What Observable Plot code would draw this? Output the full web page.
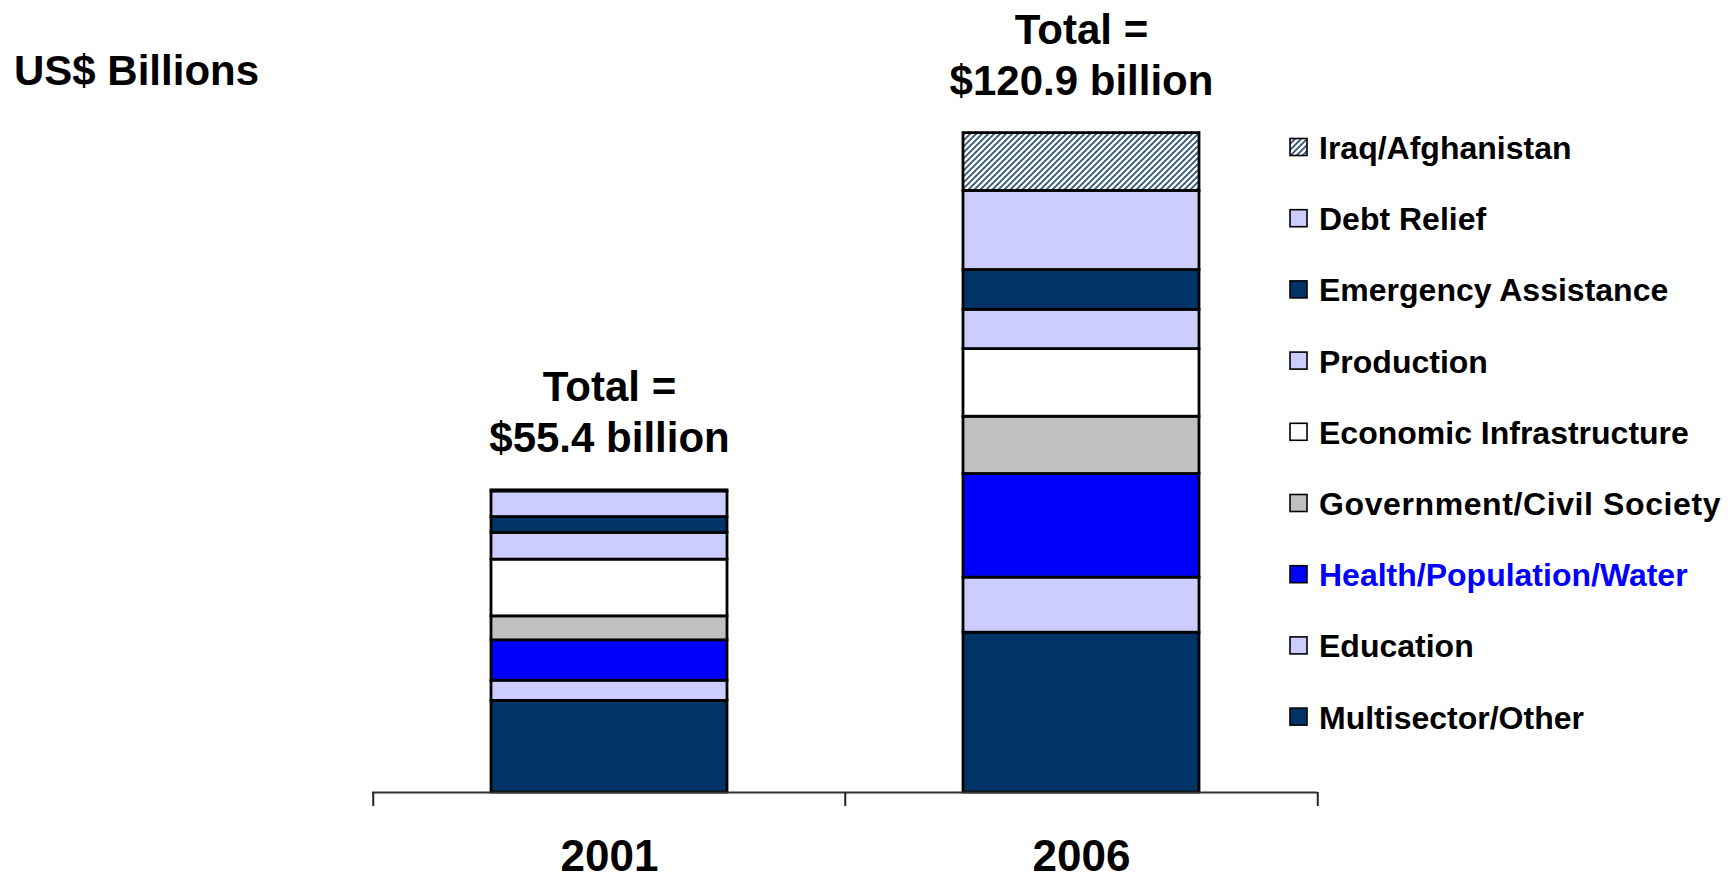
<!DOCTYPE html>
<html>
<head>
<meta charset="utf-8">
<script src="https://cdn.jsdelivr.net/npm/d3@7"></script>
<script src="https://cdn.jsdelivr.net/npm/@observablehq/plot@0.6"></script>
<style>
  html, body { margin: 0; padding: 0; background: #fff; }
  #chart { position: relative; width: 1731px; height: 877px; }
</style>
</head>
<body>
<div id="chart"></div>
<script>
// ---- data (stacking order, bottom to top) ----
const years = ["2001", "2006"];
const sectors = [
  "Multisector/Other",
  "Education",
  "Health/Population/Water",
  "Government/Civil Society",
  "Economic Infrastructure",
  "Production",
  "Emergency Assistance",
  "Debt Relief",
  "Iraq/Afghanistan"
];
const values2001 = [16.8, 3.7, 7.4, 4.4, 10.4, 4.9, 2.9, 4.7, 0.2];
const values2006 = [29.3, 10.1, 19.0, 10.5, 12.4, 7.2, 7.3, 14.5, 10.6];
const totals = [55.4, 120.9];
const totalLabels = ["Total =\n$55.4 billion", "Total =\n$120.9 billion"];
const sectorColors = ["#003366", "#CCCCFF", "#0000FF", "#C0C0C0", "#FFFFFF", "#CCCCFF", "#003366", "#CCCCFF", "url(#hatch)"];
const legendTextColors = ["#000", "#000", "#0000FF", "#000", "#000", "#000", "#000", "#000", "#000"];
const unitLabel = "US$ Billions";

// ---- tables built from the arrays ----
const seriesByYear = [values2001, values2006];
const rows = [];
years.forEach((yr, j) => sectors.forEach((s, i) => rows.push({year: yr, sector: s, value: seriesByYear[j][i]})));
const totalRows = years.map((yr, j) => ({year: yr, total: totals[j], label: totalLabels[j]}));

// ---- layout ----
const W = 1731, H = 877;
const axisLeft = 372, axisRight = 1317, axisY = 792;
const pxPerUnit = 5.454;
const bandHalf = (axisRight - axisLeft) / years.length / 2;
const barInset = 118;
const tickLen = 14 / pxPerUnit;
const font = "'Liberation Sans', Arial, Helvetica, sans-serif";

const plot = Plot.plot({
  width: W,
  height: H,
  marginLeft: axisLeft,
  marginRight: W - axisRight,
  marginTop: 0,
  marginBottom: H - axisY,
  x: {domain: years, padding: 0},
  y: {domain: [0, axisY / pxPerUnit], range: [axisY, 0], axis: null},
  color: {domain: sectors, range: sectorColors},
  style: {fontFamily: font, background: "white", color: "black", overflow: "visible"},
  marks: [
    Plot.barY(rows, {
      x: "year", y: "value", fill: "sector",
      stroke: "black", strokeWidth: 2.8,
      insetLeft: barInset, insetRight: barInset
    }),
    Plot.ruleY([0], {stroke: "#333", strokeWidth: 2}),
    Plot.ruleX(years, {x: d => d, dx: -bandHalf, y1: 0, y2: -tickLen, stroke: "#222", strokeWidth: 2}),
    Plot.ruleX(years.slice(-1), {x: d => d, dx: bandHalf, y1: 0, y2: -tickLen, stroke: "#222", strokeWidth: 2}),
    Plot.text(totalRows, {
      x: "year", y: "total", text: "label",
      lineAnchor: "bottom", dy: -38, lineHeight: 1.214,
      fontSize: 42, fontWeight: "bold", fill: "black"
    }),
    Plot.axisX({tickSize: 0, tickPadding: 47, fontSize: 44, fontWeight: "bold", label: null, fill: "black"})
  ]
});

const svg = d3.select(plot);
// hatch pattern for Iraq/Afghanistan
svg.insert("defs", ":first-child").html(
  '<pattern id="hatch" patternUnits="userSpaceOnUse" width="6" height="6">' +
  '<rect width="6" height="6" fill="white"/>' +
  '<path d="M-1,1 l2,-2 M0,6 l6,-6 M5,7 l2,-2" stroke="#2f5577" stroke-width="1.8"/>' +
  '</pattern>'
);

// unit label
svg.append("text")
  .attr("x", 14).attr("y", 85)
  .attr("text-anchor", "start")
  .attr("font-family", font).attr("font-size", 42).attr("font-weight", "bold")
  .attr("fill", "black")
  .text(unitLabel);

// legend (top to bottom = reverse stacking order)
const legendTop = 147, legendStep = 71.2, swX = 1290, swSize = 17, txX = 1319;
const legendOrder = sectors.map((s, i) => i).reverse();
const lg = svg.append("g")
  .attr("text-anchor", "start")
  .attr("font-family", font).attr("font-size", 32).attr("font-weight", "bold");
legendOrder.forEach((i, k) => {
  const cy = legendTop + k * legendStep;
  lg.append("rect")
    .attr("x", swX).attr("y", cy - swSize / 2)
    .attr("width", swSize).attr("height", swSize)
    .attr("fill", sectorColors[i]).attr("stroke", "black").attr("stroke-width", 1.6);
  lg.append("text")
    .attr("x", txX).attr("y", cy + 12)
    .attr("fill", legendTextColors[i])
    .attr("letter-spacing", sectors[i].startsWith("Government") ? 0.6 : 0)
    .text(sectors[i]);
});

document.getElementById("chart").appendChild(plot);
</script>
</body>
</html>
